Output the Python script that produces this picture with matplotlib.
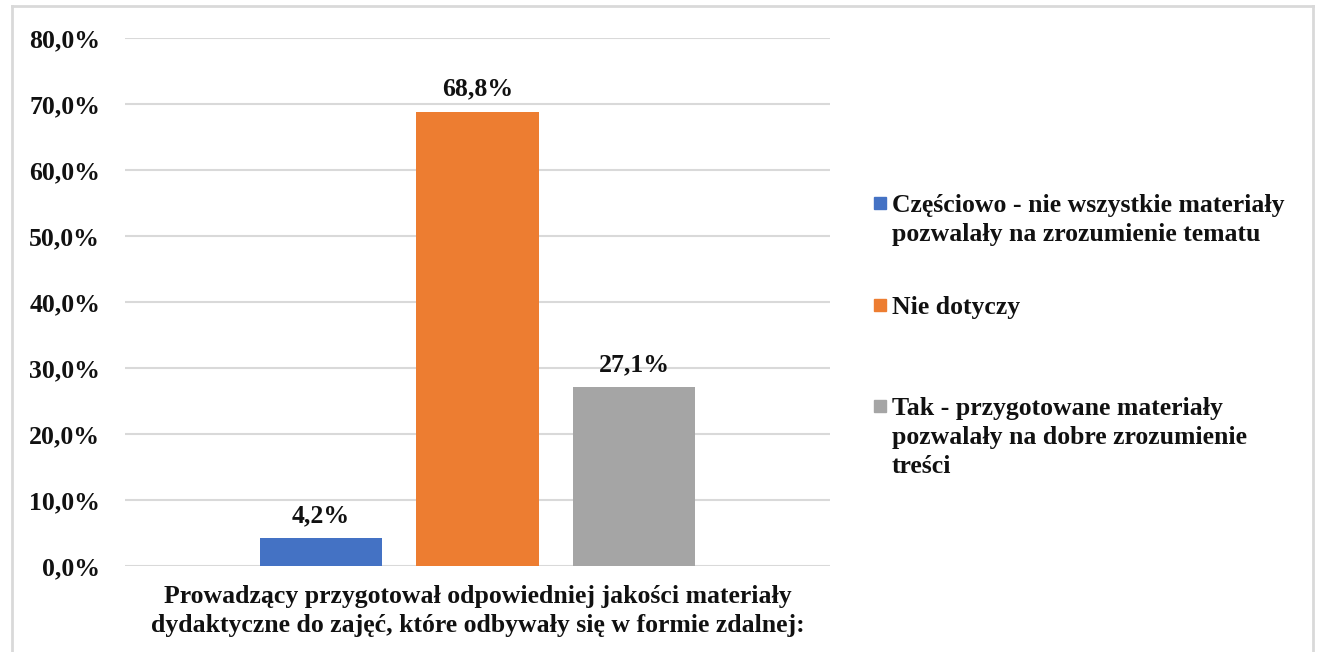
#!/usr/bin/env python3

import matplotlib
matplotlib.use('Agg')
import matplotlib.pyplot as plt
from matplotlib.patches import Rectangle
from matplotlib.lines import Line2D
from matplotlib.ticker import FuncFormatter

category = "Prowadzący przygotował odpowiedniej jakości materiały\ndydaktyczne do zajęć, które odbywały się w formie zdalnej:"
series = [
    "Częściowo - nie wszystkie materiały\npozwalały na zrozumienie tematu",
    "Nie dotyczy",
    "Tak - przygotowane materiały\npozwalały na dobre zrozumienie\ntreści",
]
values = [4.2, 68.8, 27.1]
colors = ["#4472C4", "#ED7D31", "#A5A5A5"]

plt.rcParams['font.family'] = ['Liberation Serif', 'DejaVu Serif']
plt.rcParams['font.weight'] = 'bold'

FS = 18.5
TXT = '#111111'

W, H = 1327, 652
fig = plt.figure(figsize=(W / 100, H / 100), dpi=100)
ax = fig.add_axes([125 / W, 1 - 566 / H, 705 / W, 528 / H])

offsets = [-1, 0, 1]
for off, v, c in zip(offsets, values, colors):
    ax.bar(off, v, width=0.78, color=c, zorder=3)
    ax.annotate(("%.1f%%" % v).replace('.', ','), xy=(off, v), xytext=(0, 8),
                textcoords='offset points', ha='center', va='bottom',
                fontsize=FS, fontweight='bold', color=TXT)

ax.set_xlim(-2.25, 2.25)
ax.set_ylim(0, 80)
ax.set_yticks(range(0, 81, 10))
ax.yaxis.set_major_formatter(FuncFormatter(lambda y, p: ("%.1f%%" % y).replace('.', ',')))
ax.set_xticks([0])
ax.set_xticklabels([category], fontsize=FS, fontweight='bold', linespacing=1.33)
ax.tick_params(axis='both', length=0, labelsize=FS, colors=TXT)
ax.tick_params(axis='y', pad=18)
ax.tick_params(axis='x', pad=14)
ax.grid(axis='y', color='#D9D9D9', linewidth=1.5, zorder=0)
for s in ax.spines.values():
    s.set_visible(False)

# manual legend, handle aligned with first text line
leg_y = [203, 305, 406]
for y, c, name in zip(leg_y, colors, series):
    fig.patches.append(Rectangle((874 / W, 1 - (y + 6) / H), 12 / W, 12 / H,
                                 transform=fig.transFigure, color=c))
    fig.text(892 / W, 1 - (y - 9) / H, name, ha='left', va='top',
             fontsize=FS, fontweight='bold', color=TXT, linespacing=1.33)

# chart border
bc = '#D9D9D9'
fig.lines.append(Line2D([12 / W, 12 / W], [0, 1 - 6 / H], transform=fig.transFigure, color=bc, lw=2))
fig.lines.append(Line2D([12 / W, 1313 / W], [1 - 6 / H, 1 - 6 / H], transform=fig.transFigure, color=bc, lw=2))
fig.lines.append(Line2D([1313 / W, 1313 / W], [0, 1 - 6 / H], transform=fig.transFigure, color=bc, lw=2))

fig.savefig('out.png', dpi=100)
